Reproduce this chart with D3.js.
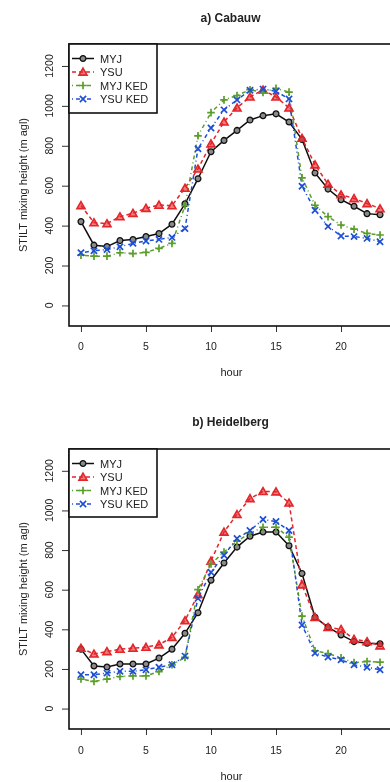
<!DOCTYPE html>
<html>
<head>
<meta charset="utf-8">
<script src="https://cdn.jsdelivr.net/npm/d3@7/dist/d3.min.js"></script>
<style>
  html, body { margin: 0; padding: 0; background: #fff; }
  svg { display: block; font-family: "Liberation Sans", Arial, sans-serif; }
</style>
</head>
<body>
<svg id="chart" width="390" height="782"></svg>
<script>
// Diurnal cycle of STILT mixing height for two sites and four WRF set-ups
const hours = d3.range(0, 24);
const xTicks = [0, 5, 10, 15, 20];
const yTicks = [0, 200, 400, 600, 800, 1000, 1200];
const seriesNames = ["MYJ", "YSU", "MYJ KED", "YSU KED"];

// a) Cabauw
const cabauwMYJ    = [420, 302, 295, 325, 330, 345, 360, 407, 509, 635, 770, 827, 877, 929, 951, 960, 919, 832, 664, 583, 530, 497, 460, 455];
const cabauwYSU    = [501, 415, 410, 445, 462, 487, 503, 500, 588, 684, 810, 920, 990, 1045, 1080, 1045, 990, 838, 705, 608, 555, 536, 511, 485];
const cabauwMYJKED = [252, 247, 247, 264, 260, 266, 286, 311, 500, 850, 966, 1030, 1052, 1081, 1067, 1088, 1069, 639, 502, 445, 403, 382, 361, 353];
const cabauwYSUKED = [264, 274, 280, 294, 311, 323, 331, 341, 385, 785, 889, 980, 1030, 1078, 1084, 1073, 1035, 597, 477, 396, 348, 345, 336, 319];

// b) Heidelberg
const heidelbergMYJ    = [300, 215, 210, 225, 225, 225, 255, 300, 380, 484, 648, 735, 815, 870, 891, 891, 822, 682, 461, 411, 372, 338, 330, 327];
const heidelbergYSU    = [305, 276, 288, 300, 305, 310, 322, 360, 444, 575, 745, 891, 980, 1060, 1096, 1094, 1038, 625, 461, 410, 400, 350, 338, 317];
const heidelbergMYJKED = [149, 137, 149, 162, 165, 165, 187, 221, 258, 600, 730, 790, 845, 885, 915, 915, 865, 467, 292, 278, 256, 232, 238, 234];
const heidelbergYSUKED = [171, 171, 179, 188, 188, 196, 209, 221, 265, 556, 688, 774, 858, 899, 954, 944, 899, 422, 280, 260, 246, 221, 209, 196];

const styles = [
  { color: "#111111", dash: null,      marker: "circle" },
  { color: "#e2252a", dash: "4,3",     marker: "triangle" },
  { color: "#5a9e2a", dash: "1,3,4,3", marker: "plus" },
  { color: "#1f4fd6", dash: "1,3,4,3", marker: "cross" }
];

const panels = [
  { title: "a) Cabauw", top: 44, bottom: 326, titleY: 22, tickY: 350, hourY: 376,
    series: [cabauwMYJ, cabauwYSU, cabauwMYJKED, cabauwYSUKED] },
  { title: "b) Heidelberg", top: 449, bottom: 729, titleY: 426, tickY: 754, hourY: 780,
    series: [heidelbergMYJ, heidelbergYSU, heidelbergMYJKED, heidelbergYSUKED] }
];

const svg = d3.select("#chart");
const defs = svg.append("defs");
defs.append("filter").attr("id", "soft")
  .append("feGaussianBlur").attr("stdDeviation", 0.45);
const root = svg.append("g").attr("filter", "url(#soft)");

const left = 69, right = 392;
const x = d3.scaleLinear().domain([-0.92, 23.92]).range([left, right]);
const textColor = "#222";

function drawMarker(sel, kind, color) {
  if (kind === "circle") {
    sel.append("circle").attr("r", 2.9)
      .attr("fill", "#8a8a8a").attr("stroke", color).attr("stroke-width", 1.3);
  } else if (kind === "triangle") {
    sel.append("path").attr("d", d3.symbol(d3.symbolTriangle, 28)())
      .attr("transform", "translate(0,0.8)")
      .attr("fill", color).attr("fill-opacity", 0.6)
      .attr("stroke", color).attr("stroke-width", 1.6);
  } else if (kind === "plus") {
    sel.append("path").attr("d", "M-3.8,0H3.8M0,-3.8V3.8")
      .attr("stroke", color).attr("stroke-width", 1.7).attr("fill", "none");
  } else {
    sel.append("path").attr("d", "M-3.1,-3.1L3.1,3.1M-3.1,3.1L3.1,-3.1")
      .attr("stroke", color).attr("stroke-width", 1.7).attr("fill", "none");
  }
}

panels.forEach(p => {
  const y = d3.scaleLinear().domain([-103, 1310]).range([p.bottom, p.top]);
  const g = root.append("g");

  // title
  g.append("text").attr("x", (left + right) / 2).attr("y", p.titleY)
    .attr("text-anchor", "middle").attr("font-size", 12).attr("font-weight", "bold")
    .attr("fill", textColor).text(p.title);

  // y axis: outward ticks with labels rotated parallel to the axis
  const yAxis = g.append("g").attr("transform", `translate(${left},0)`)
    .call(d3.axisLeft(y).tickValues(yTicks).tickSize(7).tickFormat(""));
  yAxis.select(".domain").remove();
  yAxis.selectAll(".tick line").attr("stroke", "#333");
  yTicks.forEach(v => {
    g.append("text").attr("transform", `translate(53,${y(v)}) rotate(-90)`)
      .attr("text-anchor", "middle").attr("font-size", 10.5).attr("fill", textColor).text(v);
  });

  // x axis
  const xAxis = g.append("g").attr("transform", `translate(0,${p.bottom})`)
    .call(d3.axisBottom(x).tickValues(xTicks).tickSize(6).tickFormat(""));
  xAxis.select(".domain").remove();
  xAxis.selectAll(".tick line").attr("stroke", "#333");
  xTicks.forEach(v => {
    g.append("text").attr("x", x(v)).attr("y", p.tickY).attr("text-anchor", "middle")
      .attr("font-size", 10.5).attr("fill", textColor).text(v);
  });

  // axis titles
  g.append("text").attr("x", (left + right) / 2 + 1).attr("y", p.hourY)
    .attr("text-anchor", "middle").attr("font-size", 11).attr("fill", textColor).text("hour");
  g.append("text").attr("transform", `translate(27,${(p.top + p.bottom) / 2}) rotate(-90)`)
    .attr("text-anchor", "middle").attr("font-size", 11).attr("fill", textColor)
    .text("STILT mixing height (m agl)");

  // series: lines with over-plotted markers
  const line = d3.line().x((d, i) => x(hours[i])).y(d => y(d));
  p.series.forEach((vals, k) => {
    const st = styles[k];
    g.append("path").datum(vals).attr("d", line).attr("fill", "none")
      .attr("stroke", st.color).attr("stroke-width", 1.5)
      .attr("stroke-dasharray", st.dash);
  });
  p.series.forEach((vals, k) => {
    const st = styles[k];
    vals.forEach((v, i) => {
      const m = g.append("g").attr("transform", `translate(${x(hours[i])},${y(v)})`);
      drawMarker(m, st.marker, st.color);
    });
  });

  // plot frame
  g.append("rect").attr("x", left).attr("y", p.top).attr("width", right - left)
    .attr("height", p.bottom - p.top).attr("fill", "none")
    .attr("stroke", "#111").attr("stroke-width", 1.6);

  // legend
  const lg = g.append("g").attr("transform", `translate(${left},${p.top})`);
  const lh = p.bottom - p.top > 281 ? 69 : 68;
  lg.append("rect").attr("width", 88).attr("height", lh).attr("fill", "#fff")
    .attr("stroke", "#111").attr("stroke-width", 1.6);
  seriesNames.forEach((name, k) => {
    const st = styles[k];
    const ry = 14.5 + k * 13.5;
    lg.append("line").attr("x1", 3).attr("x2", 25).attr("y1", ry).attr("y2", ry)
      .attr("stroke", st.color).attr("stroke-width", 1.5).attr("stroke-dasharray", st.dash);
    drawMarker(lg.append("g").attr("transform", `translate(14,${ry})`), st.marker, st.color);
    lg.append("text").attr("x", 31).attr("y", ry + 4).attr("font-size", 11)
      .attr("fill", textColor).text(name);
  });
});
</script>
</body>
</html>
